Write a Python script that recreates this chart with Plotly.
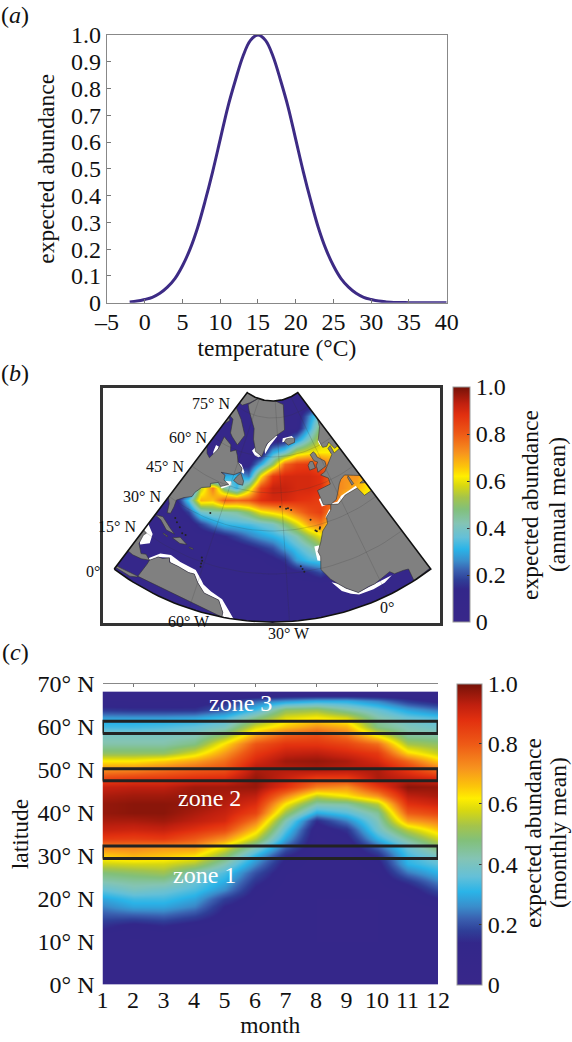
import numpy as np
import plotly.graph_objects as go

FONT = "Liberation Serif"
W, H = 572, 1042

# ---------- panel (a)
temperature = [-2,-1,0,1,2,3,4,5,6,7,8,9,10,11,12,13,14,15,16,17,18,19,20,21,22,23,24,25,26,27,28,29,30,31,32,33,34,35,36,37,38,39,40]
expected = [.003,.006,.012,.02,.035,.058,.09,.138,.2,.28,.38,.49,.61,.73,.83,.92,.98,1,.98,.92,.83,.73,.61,.49,.38,.28,.2,.138,.09,.058,.035,.02,.012,.006,.003,.001,.001,0,0,0,0,0,0]
a_xticks = list(range(-5, 41, 5))
a_xlabels = ["–5","0","5","10","15","20","25","30","35","40"]
a_yticks = [0,.1,.2,.3,.4,.5,.6,.7,.8,.9,1]
a_ylabels = ["0","0.1","0.2","0.3","0.4","0.5","0.6","0.7","0.8","0.9","1.0"]

# ---------- colour scale
cmap = [[0,"#38278a"],[.14,"#33278a"],[.18,"#2f3f98"],[.22,"#3a60b0"],[.26,"#3a8dcb"],[.31,"#2ab4e8"],
        [.36,"#64c0d8"],[.42,"#84c4b4"],[.48,"#82c07a"],[.53,"#a5c44a"],[.58,"#d8d810"],[.62,"#ffee00"],
        [.66,"#fcc50a"],[.72,"#f7931e"],[.8,"#ee5a16"],[.88,"#e2300f"],[.93,"#c0200f"],[1,"#751208"]]
bar_ticks = [0,.2,.4,.6,.8,1]
bar_labels = ["0","0.2","0.4","0.6","0.8","1.0"]

# ---------- panel (b): map field, read on the map's own x/y units (north at top)
map_x = [-156,-144,-132,-120,-108,-96,-84,-72,-60,-48,-36,-24,-12,0,12,24,36,48,60,72,84,96,108,120,132,144,156]
map_y = [-33,-45,-57,-69,-81,-93,-105,-117,-129,-141,-153,-165,-177,-189,-201,-213,-225,-237,-249,-261]
map_field = [
 [8,8,8,8,8,8,8,8,8,8,8,8,8,8,8,8,8,8,8,8,8,8,8,8,8,8,8],
 [8,8,8,8,8,8,8,8,8,8,8,8,8,8,8,8,8,8,8,8,8,8,8,8,8,8,8],
 [8,8,8,8,8,8,8,8,8,8,8,8,8,8,8,8,25,42,50,50,50,50,50,50,50,50,50],
 [8,8,8,8,8,8,8,8,8,8,8,8,8,8,8,10,30,50,60,60,60,60,60,60,60,60,60],
 [8,8,8,8,8,8,8,8,8,8,8,8,8,10,14,28,42,58,60,60,60,60,60,60,60,60,60],
 [8,8,8,8,8,8,8,8,8,8,8,8,8,30,38,55,60,62,62,62,62,62,62,62,62,62,62],
 [8,8,8,8,8,8,8,8,8,8,8,12,30,50,78,85,86,80,72,70,70,70,70,70,70,70,70],
 [8,8,8,8,8,8,8,8,8,30,32,25,62,86,90,90,90,88,75,72,72,62,62,62,62,62,62],
 [8,8,8,8,8,8,8,55,75,45,32,55,84,92,92,90,90,88,75,72,68,62,62,62,62,62,62],
 [8,8,8,8,8,12,35,68,66,80,78,80,88,90,90,88,87,85,80,65,60,60,60,60,60,60,60],
 [8,8,8,8,8,8,18,38,42,42,44,50,60,64,68,76,82,85,70,60,60,60,60,60,60,60,60],
 [8,8,8,8,8,8,8,18,26,32,33,34,37,40,48,58,70,75,60,60,60,60,60,60,60,60,60],
 [8,8,8,8,8,8,8,8,10,14,19,24,28,31,35,42,52,60,50,50,50,50,50,50,50,50,50],
 [8,8,8,8,8,8,8,8,8,8,9,12,16,20,28,34,40,48,40,40,40,40,40,40,40,40,40],
 [8,8,8,8,8,8,8,8,8,8,8,8,9,12,16,28,33,35,30,30,30,30,30,30,30,30,30],
 [8,8,8,8,8,8,8,8,8,8,8,8,8,8,9,12,15,20,12,8,8,8,8,8,8,8,8],
 [8,8,8,8,8,8,8,8,8,8,8,8,8,8,8,8,8,8,8,8,8,8,8,8,8,8,8],
 [8,8,8,8,8,8,8,8,8,8,8,8,8,8,8,8,8,8,8,8,8,8,8,8,8,8,8],
 [8,8,8,8,8,8,8,8,8,8,8,8,8,8,8,8,8,8,8,8,8,8,8,8,8,8,8],
 [8,8,8,8,8,8,8,8,8,8,8,8,8,8,8,8,8,8,8,8,8,8,8,8,8,8,8],
]

# conic projection tables: latitude -> radius on the map, longitude -> angle
proj_lat = [0,15,30,45,60,75,82]
proj_rad = [263,215,172,134,98,59,42]
lon_centre, cone = -35.0, 0.74
lon_min, lon_max, lat_min, lat_max = -85, 15, 0, 82

def project(lon, lat):
    lon = np.asarray(lon, float); lat = np.asarray(lat, float)
    r = np.interp(lat, proj_lat, proj_rad)
    t = np.radians(cone * (lon - lon_centre))
    return r * np.sin(t), -r * np.cos(t)

land = {
 "south_america": [(-77.5,8.5),(-75.5,10.8),(-74,11),(-72,12.2),(-71.3,11),(-68,11),(-64,10.5),(-62,10.7),(-60,8.5),(-57,6),(-52,5),(-50,1.5),(-50,-6),(-90,-6),(-90,0),(-80,1),(-78,2),(-77.5,7)],
 "central_america": [(-77.5,8.5),(-79.5,9.5),(-81,8.8),(-83.5,11),(-84,14),(-83.5,15),(-88,16),(-88,21),(-95,21),(-95,7),(-83,7),(-80,7.5)],
 "north_america": [(-95,29),(-85,29.7),(-83,28),(-81.5,25),(-80.2,25.5),(-80.5,28),(-81.3,30.5),(-79,33),(-76,35),(-75.8,37),(-74,40),(-72,41),(-70,41.7),(-70.8,43),(-67,44.7),(-65,43.5),(-61,45.5),(-64.5,46.5),(-65,48.5),(-68,49),(-60,50),(-56,52),(-56,53.5),(-60,55.5),(-62,58),(-64.5,60),(-68,58.5),(-70,61),(-78,62.5),(-77,57),(-79,52),(-82,53),(-85,55.5),(-95,58),(-95,66),(-85,66),(-82,69),(-95,72),(-95,29)],
 "newfoundland": [(-59,47.7),(-56,46.8),(-53,46.8),(-53,48.5),(-56,51.5),(-58,49.5)],
 "baffin": [(-95,76),(-80,73.5),(-72,71.5),(-62,66.5),(-65,62),(-72,64),(-75,65),(-80,70),(-95,71)],
 "arctic": [(-95,84),(-62,84),(-72,79),(-80,76.5),(-95,77)],
 "greenland": [(-73,78),(-68,76),(-55,70),(-53,66),(-49,61.5),(-43.5,60),(-40,65),(-32,68),(-22,70),(-20,75),(-17,80),(-30,85),(-62,85)],
 "iceland": [(-24,65.5),(-21,64),(-15,64.5),(-14,66),(-18,66.5),(-22,66.5)],
 "ireland": [(-10,52),(-6,52),(-6,55),(-8,55.3),(-10,54)],
 "britain": [(-5.5,50),(1,51),(1.7,53),(-2,56),(-2,57.5),(-3,58.6),(-6,58),(-5,55),(-3,54),(-5,52.7),(-5,51.5)],
 "scandinavia": [(5,58.5),(5,62),(12,66),(15,69),(25,71),(30,70),(30,55),(12,55.5),(11,59),(8,58)],
 "europe": [(-9,37),(-9.5,43),(-1.5,43.5),(-1,46),(-4.5,48.5),(-1.5,49),(2,51),(4,52),(8,54),(8,57),(10.5,57.5),(10,54),(30,54),(30,40),(18,40),(16,38),(15.5,40),(12,42),(10,43),(8,44),(5,43.3),(3,42),(0,39),(-2,37),(-5.5,36)],
 "africa": [(-5.5,36),(-2,35),(3,37),(10,37),(11,33),(25,32),(25,-6),(9,-6),(9.5,4),(8,4.5),(5,5),(4,6.3),(-2,5),(-4,5),(-7.7,4.4),(-11,7),(-13,9),(-15,11),(-17.5,14.7),(-16.5,19),(-17,21),(-15,24),(-13,27.5),(-10,29.5),(-9.5,32),(-6.5,34)],
 "cuba": [(-85,22),(-82,23),(-77,21),(-74.5,20),(-78,19.8),(-82,21.7)],
 "hispaniola": [(-74.5,18.5),(-72,20),(-68.5,18.7),(-71,18)],
 "puerto_rico": [(-67.3,18.3),(-65.7,18.3),(-65.7,18),(-67.2,18)],
 "jamaica": [(-78.3,18.4),(-76.3,18.2),(-76.5,17.9),(-78.3,18.1)],
 "sardinia_corsica": [(8.5,39),(9.7,39.2),(9.5,43),(8.7,42.5)],
 "sicily": [(12.5,38),(15.5,38.2),(15,36.8)],
}
white_gaps = {
 "guiana": [(-78,9),(-75.5,12),(-72,13.2),(-68,12.5),(-65,12.3),(-62,12),(-59,9.5),(-58,8.5),(-55,7),(-51,5.5),(-48,2),(-46.5,0),(-46.5,-4),(-50,-4),(-50,1.5),(-52,5),(-57,6),(-60,8.5),(-62,10.7),(-64,10.5),(-68,11),(-71,11),(-72,12.2),(-75.5,10.8),(-77.5,8.5)],
 "honduras": [(-85,18),(-81.5,16),(-80.5,13),(-83,11),(-85,13)],
 "guinea": [(-15,10),(-12.5,6.5),(-10,4.8),(-7.7,3.8),(-3,3.6),(1,4),(4,5),(5,5),(-2,5),(-7.7,4.4),(-11,7),(-13,9)],
 "senegal": [(-18,23),(-18,18),(-16.5,17.5),(-16,20),(-16,23)],
 "morocco": [(-7,34.5),(-10,32),(-9,31),(-6,33.5)],
 "iberia": [(-10,36.5),(-10.3,39.5),(-9,40),(-8.5,37),(-6,36.5)],
 "med_south": [(-5.5,36.5),(-2,36),(1,37.5),(10,38),(10,37),(3,36.8),(-2,35),(-5.5,35.7)],
 "iceland_w": [(-26,65.5),(-25,67),(-16,67.2),(-14,65.8),(-18,65.5)],
 "denmark_strait": [(-42,63),(-38,66),(-32,68.5),(-30,68),(-37,64.5),(-41,61)],
 "norway": [(4,59.5),(4,61.5),(7,63),(6,60)],
 "greenland_s": [(-52,61.5),(-49,60),(-46,59.5),(-44,60),(-48,61.5),(-50,63)],
 "labrador": [(-60,55.5),(-57,55),(-54,52.5),(-54,51.5),(-56,52),(-56,53.5)],
 "nova_scotia": [(-66,44),(-64,43),(-59.5,45.5),(-60,47),(-63,46.5)],
 "hudson": [(-80,58),(-77.5,58),(-77,55),(-78,54),(-79,55)],
}
islands_lon = [-28,-25.5,-31,-27,-17,-16,-15.5,-14,-13.7,-24,-23.5,-24.5,-64.7,-77.5,-76,-74,-72,-70.5,-61.5,-61,-61,-60.8]
islands_lat = [38.5,37.8,39.5,38.7,32.7,28.3,28,28.5,29,16,15,17,32.3,25,24,23,21.5,21.5,16.5,15.5,14.5,13.5]
grid_lons = [-60,-30,0]
grid_lats = [15,30,45,60,75]
map_labels = [(lon_min,75,"75° N",-5,3,"right"),(lon_min,60,"60° N",-5,0,"right"),(lon_min,45,"45° N",-6,0,"right"),
              (lon_min,30,"30° N",-6,0,"right"),(lon_min,15,"15° N",-5,4,"right"),(lon_min,0,"0°",-12,-2,"right"),
              (-60,0,"60° W",0,-13,"center"),(-30,0,"30° W",0,-12,"center"),(0,0,"0°",0,-12,"center")]

# ---------- panel (c)
months = [1,2,3,4,5,6,7,8,9,10,11,12]
lat_rows = [0,10,14,18,20,22,24,26,28,30,32,34,36,38,40,42,44,46,48,50,52,54,56,58,60,62,64,66,67.4]
month_lat = [
 [.08,.08,.08,.08,.08,.08,.08,.08,.08,.08,.08,.08],
 [.09,.09,.09,.09,.08,.08,.07,.07,.07,.07,.08,.08],
 [.16,.13,.15,.12,.10,.09,.08,.07,.07,.07,.08,.09],
 [.25,.29,.29,.25,.14,.10,.08,.07,.07,.07,.08,.10],
 [.29,.33,.33,.29,.18,.11,.08,.07,.07,.07,.09,.14],
 [.36,.40,.38,.34,.26,.13,.08,.08,.08,.08,.11,.20],
 [.42,.44,.44,.37,.30,.16,.09,.08,.08,.09,.16,.25],
 [.48,.50,.52,.42,.34,.20,.10,.08,.08,.10,.24,.31],
 [.57,.58,.58,.54,.42,.26,.12,.08,.08,.12,.31,.36],
 [.65,.68,.66,.63,.50,.31,.15,.08,.08,.15,.33,.40],
 [.74,.74,.72,.72,.60,.42,.22,.09,.09,.22,.37,.49],
 [.86,.85,.86,.80,.72,.55,.29,.09,.12,.31,.45,.57],
 [.92,.91,.92,.88,.83,.65,.35,.10,.16,.38,.55,.66],
 [.95,.95,.96,.93,.90,.75,.42,.15,.25,.41,.70,.75],
 [.97,.98,.98,.95,.92,.84,.52,.30,.35,.45,.80,.84],
 [.97,.98,.98,.97,.94,.89,.62,.43,.44,.55,.88,.91],
 [.95,.96,.96,.97,.95,.93,.74,.56,.62,.72,.93,.95],
 [.92,.93,.93,.96,.96,.97,.88,.75,.72,.86,.98,.97],
 [.83,.85,.86,.88,.89,.97,.92,.86,.86,.95,.92,.89],
 [.73,.74,.77,.80,.82,.95,.94,.95,.94,.95,.87,.77],
 [.62,.62,.65,.70,.77,.90,.96,.97,.95,.90,.78,.65],
 [.50,.50,.50,.58,.71,.86,.92,.93,.90,.86,.64,.56],
 [.43,.43,.43,.47,.63,.81,.87,.87,.84,.77,.53,.50],
 [.40,.40,.40,.41,.50,.69,.79,.82,.76,.60,.44,.43],
 [.33,.33,.34,.36,.40,.58,.66,.72,.68,.47,.41,.38],
 [.28,.28,.28,.29,.33,.46,.59,.62,.58,.43,.37,.34],
 [.17,.16,.16,.16,.22,.33,.50,.52,.44,.37,.29,.24],
 [.09,.09,.09,.10,.14,.22,.27,.30,.30,.25,.17,.12],
 [.08,.08,.08,.08,.09,.09,.10,.11,.11,.10,.09,.08],
]
c_yticks = [0,10,20,30,40,50,60,70]
c_ylabels = ["0° N","10° N","20° N","30° N","40° N","50° N","60° N","70° N"]
zones = [("zone 1",29.3,32.2,4.33,25.5),("zone 2",47.4,50.2,4.5,43.4),("zone 3",58.4,61.2,5.51,65.4)]


def dx(a, b): return [a / W, b / W]
def dy(top, bottom): return [1 - bottom / H, 1 - top / H]

fig = go.Figure()
# (a)
fig.add_trace(go.Scatter(x=temperature, y=expected, mode="lines", line=dict(color="#3d2b85", width=3, shape="spline"), xaxis="x", yaxis="y", cliponaxis=True))

# (b)
fig.add_trace(go.Heatmap(x=map_x, y=map_y[::-1], z=(np.array(map_field)[::-1] / 100).tolist(), zsmooth="best", coloraxis="coloraxis", xaxis="x2", yaxis="y2", hoverinfo="skip"))

def poly_trace(polys, color, line_color, lw):
    xs, ys = [], []
    for p in polys:
        lo, la = zip(*p)
        px, py = project(lo + lo[:1], la + la[:1])
        xs += px.tolist() + [None]; ys += py.tolist() + [None]
    return go.Scatter(x=xs, y=ys, mode="lines", fill="toself", fillcolor=color, line=dict(color=line_color, width=lw), xaxis="x2", yaxis="y2", hoverinfo="skip")

fig.add_trace(poly_trace(list(white_gaps.values()), "white", "white", 0))
fig.add_trace(poly_trace(list(land.values()), "#808080", "#333333", 0.6))
# graticule
gx, gy = [], []
for lon in grid_lons:
    la = np.linspace(lat_min, lat_max, 30); px, py = project(np.full(30, lon), la)
    gx += px.tolist() + [None]; gy += py.tolist() + [None]
for lat in grid_lats:
    lo = np.linspace(lon_min, lon_max, 40); px, py = project(lo, np.full(40, lat))
    gx += px.tolist() + [None]; gy += py.tolist() + [None]
fig.add_trace(go.Scatter(x=gx, y=gy, mode="lines", line=dict(color="rgba(50,50,50,0.3)", width=0.6), xaxis="x2", yaxis="y2", hoverinfo="skip"))
ix, iy = project(islands_lon, islands_lat)
fig.add_trace(go.Scatter(x=ix, y=iy, mode="markers", marker=dict(color="#222", size=2), xaxis="x2", yaxis="y2", hoverinfo="skip"))

# wedge and its outside
lo = np.linspace(lon_min, lon_max, 60)
bx, by = project(lo, np.full(60, lat_min))
tx, ty = project(lo[::-1], np.full(60, lat_max))
wx = np.r_[bx, tx, bx[0]]; wy = np.r_[by, ty, by[0]]
rng_x, rng_y = [-169.5, 167.5], [-264, -29]
mid = 30
ox = [0, rng_x[0], rng_x[0], rng_x[1], rng_x[1], 0] + bx[mid:].tolist() + tx.tolist() + bx[:mid].tolist() + [0]
oy = [rng_y[0], rng_y[0], rng_y[1], rng_y[1], rng_y[0], rng_y[0]] + by[mid:].tolist() + ty.tolist() + by[:mid].tolist() + [rng_y[0]]
fig.add_trace(go.Scatter(x=ox, y=oy, mode="lines", fill="toself", fillcolor="white", line=dict(width=0, color="white"), xaxis="x2", yaxis="y2", hoverinfo="skip"))
fig.add_trace(go.Scatter(x=wx, y=wy, mode="lines", line=dict(color="#111", width=1.6), xaxis="x2", yaxis="y2", hoverinfo="skip"))

# (c)
fig.add_trace(go.Heatmap(x=months, y=lat_rows, z=month_lat, zsmooth="best", coloraxis="coloraxis2", xaxis="x3", yaxis="y3", hoverinfo="skip"))
for name, lo_lat, hi_lat, tx_m, tx_l in zones:
    fig.add_trace(go.Scatter(x=[months[0], months[-1], months[-1], months[0], months[0]], y=[lo_lat, lo_lat, hi_lat, hi_lat, lo_lat], mode="lines",
                             line=dict(color="#222", width=3), cliponaxis=False, xaxis="x3", yaxis="y3", hoverinfo="skip"))
fig.add_trace(go.Scatter(x=[1], y=[0], mode="none", xaxis="x4", yaxis="y3", hoverinfo="skip"))

tf = dict(family=FONT, size=24, color="#111")
ttf = dict(family=FONT, size=23.5, color="#111")
frame = dict(showgrid=False, zeroline=False, showline=True, linecolor="#888", linewidth=1.2, mirror=True, tickcolor="#777", ticklen=4, tickwidth=1, tickfont=tf)

annots = []
def note(text, x, y, size=24, color="#111", angle=0, **kw):
    annots.append(dict(text=text, x=x / W, y=1 - y / H, xref="paper", yref="paper", showarrow=False, xanchor="center", yanchor="middle",
                       textangle=angle, font=dict(family=FONT, size=size, color=color), **kw))
note("(<i>a</i>)", 15, 15)
note("(<i>b</i>)", 15, 373)
note("(<i>c</i>)", 15, 652)
note("expected abundance", 530, 505, size=23.5, angle=-90)
note("(annual mean)", 557, 505, size=23.5, angle=-90)
note("expected abundance", 533, 833, size=23.5, angle=-90)
note("(monthly mean)", 558, 833, size=23.5, angle=-90)
for lon, lat, text, xs, ys, anc in map_labels:
    ax, ay = project(lon, lat)
    annots.append(dict(text=text, x=float(ax), y=float(ay), xref="x2", yref="y2", showarrow=False, xanchor=anc, yanchor="middle", xshift=xs, yshift=ys,
                       font=dict(family=FONT, size=16, color="#111")))
for name, lo_lat, hi_lat, tx_m, tx_l in zones:
    annots.append(dict(text=name, x=tx_m, y=tx_l, xref="x3", yref="y3", showarrow=False, font=dict(family=FONT, size=24, color="white")))

def cbar(x, thick, top, bottom):
    return dict(x=x / W, xanchor="left", xpad=0, ypad=0, y=1 - (top + bottom) / 2 / H, yanchor="middle", lenmode="pixels", len=bottom - top,
                thicknessmode="pixels", thickness=thick, outlinecolor="#999", outlinewidth=1, tickvals=bar_ticks, ticktext=bar_labels,
                ticks="inside", ticklen=3, tickcolor="#333", tickfont=tf)

fig.update_layout(
    width=W, height=H, margin=dict(l=0, r=0, t=0, b=0, autoexpand=False), paper_bgcolor="white", plot_bgcolor="white", showlegend=False, annotations=annots,
    coloraxis=dict(colorscale=cmap, cmin=0, cmax=1, colorbar=cbar(453, 17, 387, 622)),
    coloraxis2=dict(colorscale=cmap, cmin=0, cmax=1, colorbar=cbar(457, 25, 683.5, 984.5)),
    xaxis=dict(frame, domain=dx(107, 446.7), range=[-5, 40], anchor="y", tickvals=a_xticks, ticktext=a_xlabels, ticks="inside", ticklabelstandoff=-3,
               title=dict(text="temperature (°C)", font=ttf, standoff=2)),
    yaxis=dict(frame, domain=dy(35, 302.7), range=[0, 1], anchor="x", tickvals=a_yticks, ticktext=a_ylabels, ticks="inside",
               title=dict(text="expected abundance", font=ttf, standoff=9)),
    xaxis2=dict(domain=dx(103, 440), range=rng_x, anchor="y2", showgrid=False, zeroline=False, showticklabels=False, ticks="", showline=True, mirror=True, linecolor="#333", linewidth=3),
    yaxis2=dict(domain=dy(388, 623), range=rng_y, anchor="x2", showgrid=False, zeroline=False, showticklabels=False, ticks="", showline=True, mirror=True, linecolor="#333", linewidth=3),
    xaxis3=dict(domain=dx(102.5, 438), range=[1, 12], anchor="y3", showgrid=False, zeroline=False, tickvals=months, ticks="", tickfont=tf, ticklabelstandoff=-2,
                title=dict(text="month", font=ttf, standoff=2)),
    yaxis3=dict(domain=dy(683.5, 984.5), range=[0, 70], anchor="x3", showgrid=False, zeroline=False, tickvals=c_yticks, ticktext=c_ylabels, ticks="", tickfont=tf, ticklabelstandoff=7,
                title=dict(text="latitude", font=ttf, standoff=2)),
    xaxis4=dict(overlaying="x3", side="top", range=[1, 12], anchor="y3", showgrid=False, zeroline=False, showticklabels=False, tickvals=[2,4,6,8,10],
                ticks="inside", ticklen=3, tickcolor="#777", showline=True, linecolor="#888", linewidth=1.2),
)
fig.write_html("out.html", config={"displayModeBar": False}, post_script="document.body.style.margin='0';")
